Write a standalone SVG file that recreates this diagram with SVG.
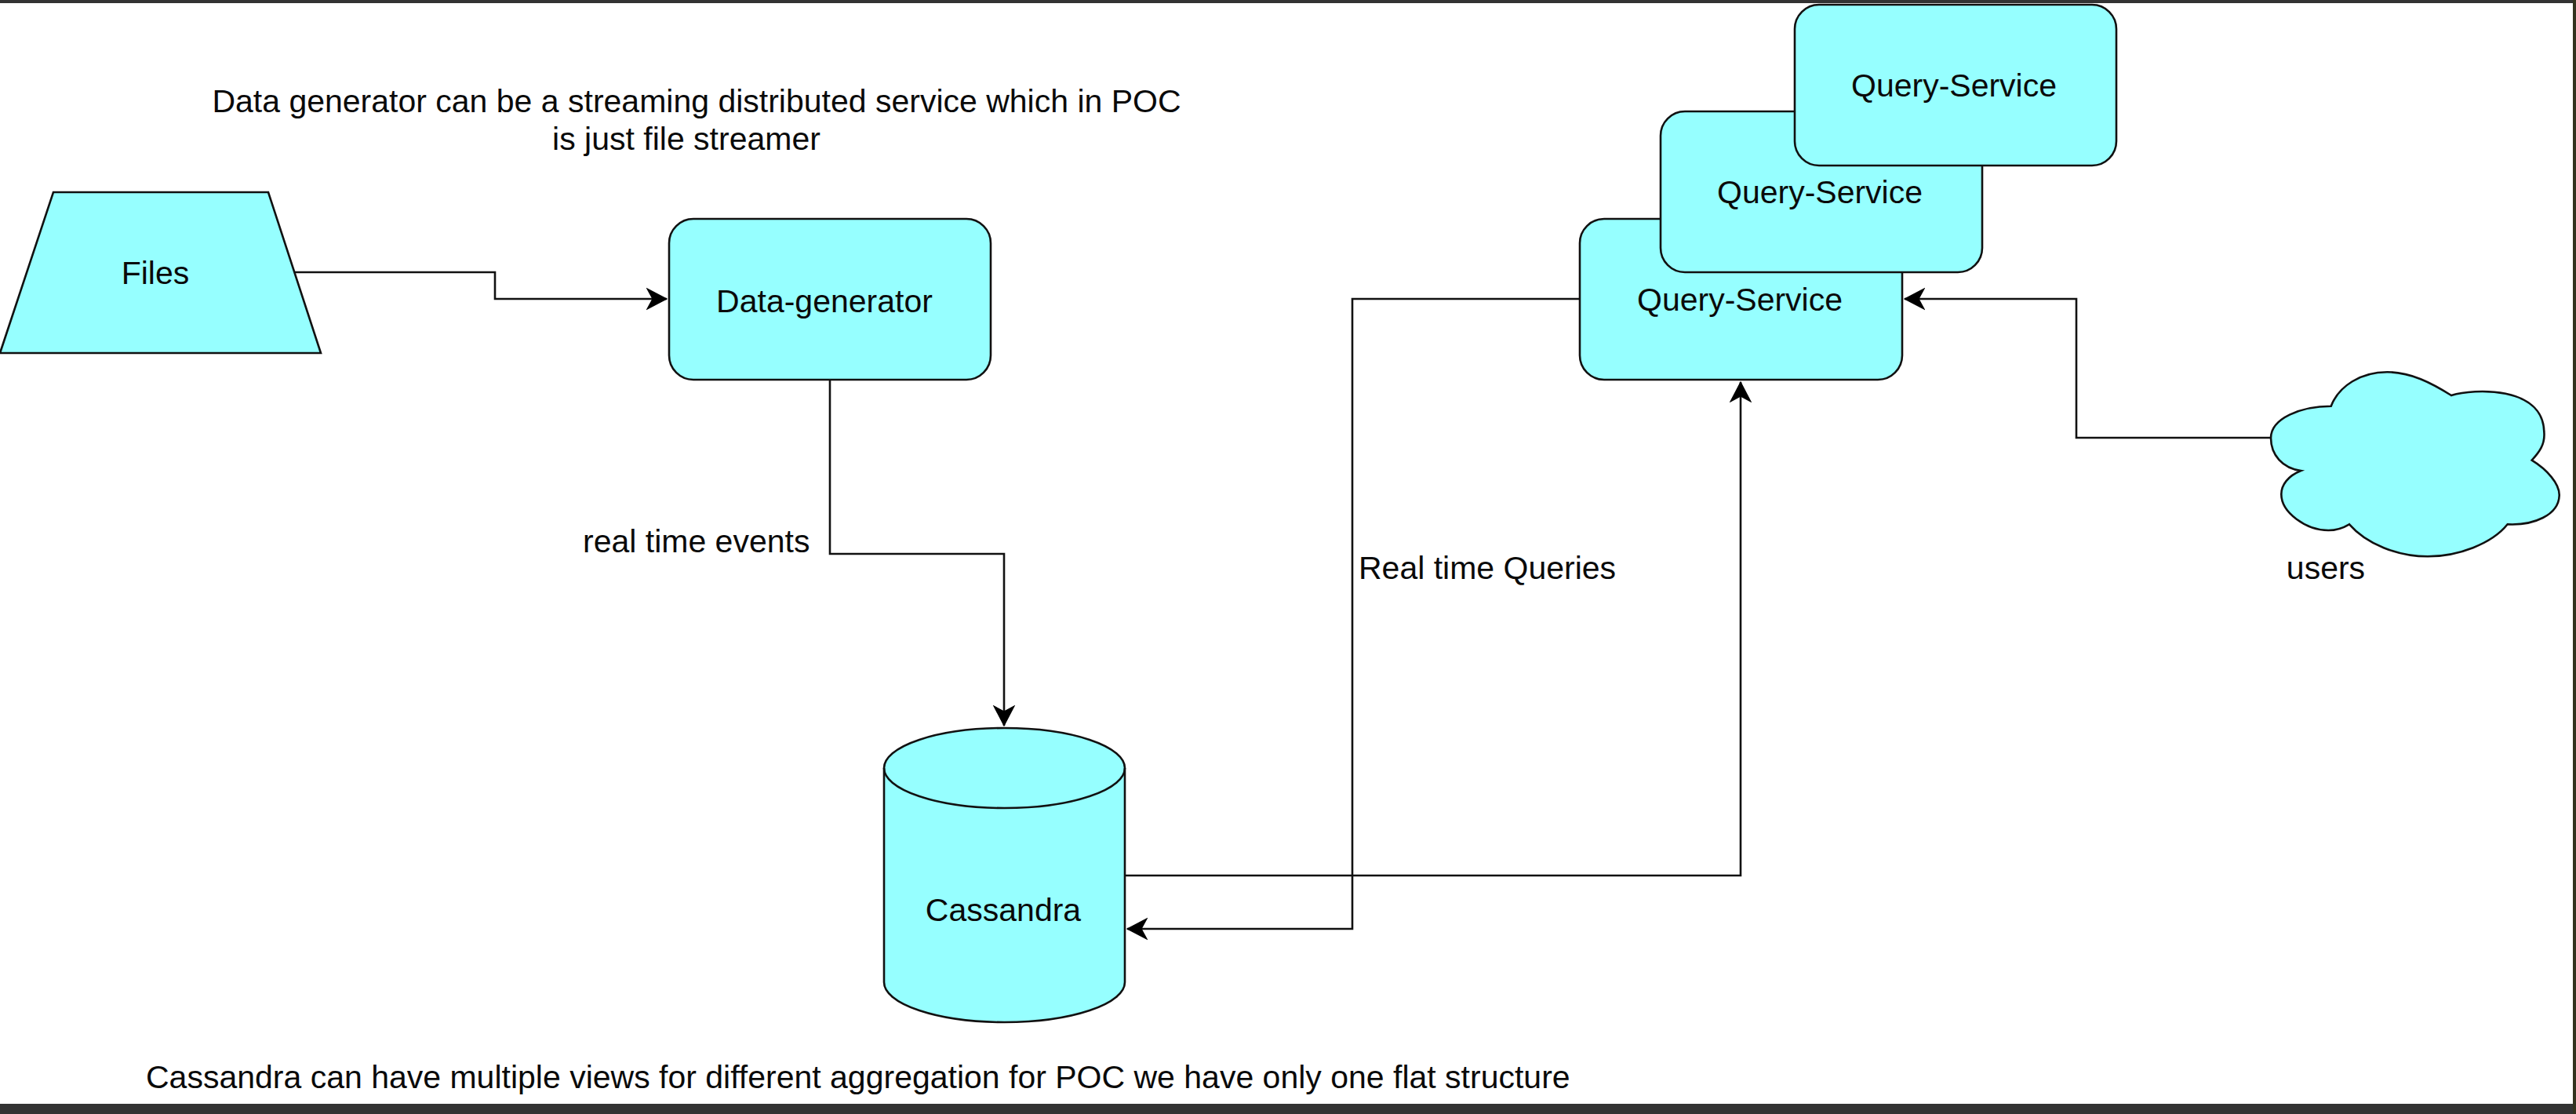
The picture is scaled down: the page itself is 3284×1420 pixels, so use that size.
<svg xmlns="http://www.w3.org/2000/svg" width="3284" height="1420" viewBox="0 0 3284 1420">
  <style>
    .shape { fill: #96ffff; stroke: #111; stroke-width: 2.6; }
    .edge { fill: none; stroke: #111; stroke-width: 2.6; }
    text { font-family: "Liberation Sans", Arial, sans-serif; font-size: 41px; fill: #0a0a0a; }
    .c { text-anchor: middle; }
  </style>
  <defs>
    <marker id="arrow" markerUnits="userSpaceOnUse" markerWidth="28" markerHeight="30" refX="26" refY="15" orient="auto">
      <path d="M26 15 L1 28 L8 15 L1 2 Z" fill="#000" stroke="#000" stroke-width="1.2"/>
    </marker>
  </defs>
  <rect width="3284" height="1420" fill="#fff"/>
  <g id="frame">
    <rect x="0" y="0" width="3284" height="4" fill="#333"/>
    <rect x="0" y="1407" width="3284" height="13" fill="#333"/>
    <rect x="3280" y="0" width="4" height="1420" fill="#33331f"/>
  </g>
  <g id="connectors">
    <path class="edge" marker-end="url(#arrow)" d="M376 347 H631 V381 H850"/>
    <path class="edge" marker-end="url(#arrow)" d="M1058 484 V706 H1280 V925"/>
    <path class="edge" marker-end="url(#arrow)" d="M1434 1116 H2219 V487"/>
    <path class="edge" marker-end="url(#arrow)" d="M2014 381 H1724 V1184 H1437"/>
    <path class="edge" marker-end="url(#arrow)" d="M2895 558 H2647 V381 H2428"/>
  </g>
  <g id="files">
    <path class="shape" d="M68 245 H342 L409 450 H0 Z"/>
    <text class="c" x="198" y="362">Files</text>
  </g>
  <g id="data-generator">
    <rect class="shape" x="853" y="279" width="410" height="205" rx="31" ry="31"/>
    <text class="c" x="1051" y="398">Data-generator</text>
  </g>
  <g id="query-service-1">
    <rect class="shape" x="2014" y="279" width="411" height="205" rx="31" ry="31"/>
    <text class="c" x="2218" y="396">Query-Service</text>
  </g>
  <g id="query-service-2">
    <rect class="shape" x="2117" y="142" width="410" height="205" rx="31" ry="31"/>
    <text class="c" x="2320" y="259">Query-Service</text>
  </g>
  <g id="query-service-3">
    <rect class="shape" x="2288" y="6" width="410" height="205" rx="31" ry="31"/>
    <text class="c" x="2491" y="123">Query-Service</text>
  </g>
  <g id="cassandra">
    <path class="shape" d="M1127 979 A153.5 51 0 0 1 1434 979 V1252 A153.5 51 0 0 1 1127 1252 Z"/>
    <path class="edge" d="M1127 979 A153.5 51 0 0 0 1434 979"/>
    <text class="c" x="1279" y="1174">Cassandra</text>
  </g>
  <g id="users">
    <path class="shape" d="M2971.7 517.7 C2981.7 491.7 3010 474.3 3043.3 474.3 C3073.3 474.3 3100 488.3 3125 504 C3153.3 495 3241.7 491.7 3243.3 550 C3245 566.7 3236.7 576.7 3227.7 586.7 C3246.7 598.3 3263.3 616.7 3262.7 631.7 C3261.7 656.7 3230 670 3196.7 668.3 C3176.7 693.3 3133.3 709.3 3095 709.3 C3056.7 709.3 3016.7 693.3 2995 668.3 C2986.7 673.3 2978.3 676 2968.3 676 C2940 676 2908.3 653.3 2908.3 630 C2908.3 618.3 2916.7 606.7 2933.3 600 C2910 596.7 2895 580 2895 558.3 C2895 533.3 2933.3 517.7 2971.7 517.7 Z"/>
    <text class="c" x="2965" y="738">users</text>
  </g>
  <g id="labels">
    <text class="c" x="888" y="143">Data generator can be a streaming distributed service which in POC</text>
    <text class="c" x="875" y="191">is just file streamer</text>
    <text x="743" y="704">real time events</text>
    <text x="1732" y="738">Real time Queries</text>
    <text x="186" y="1387">Cassandra can have multiple views for different aggregation for POC we have only one flat structure</text>
  </g>
</svg>
